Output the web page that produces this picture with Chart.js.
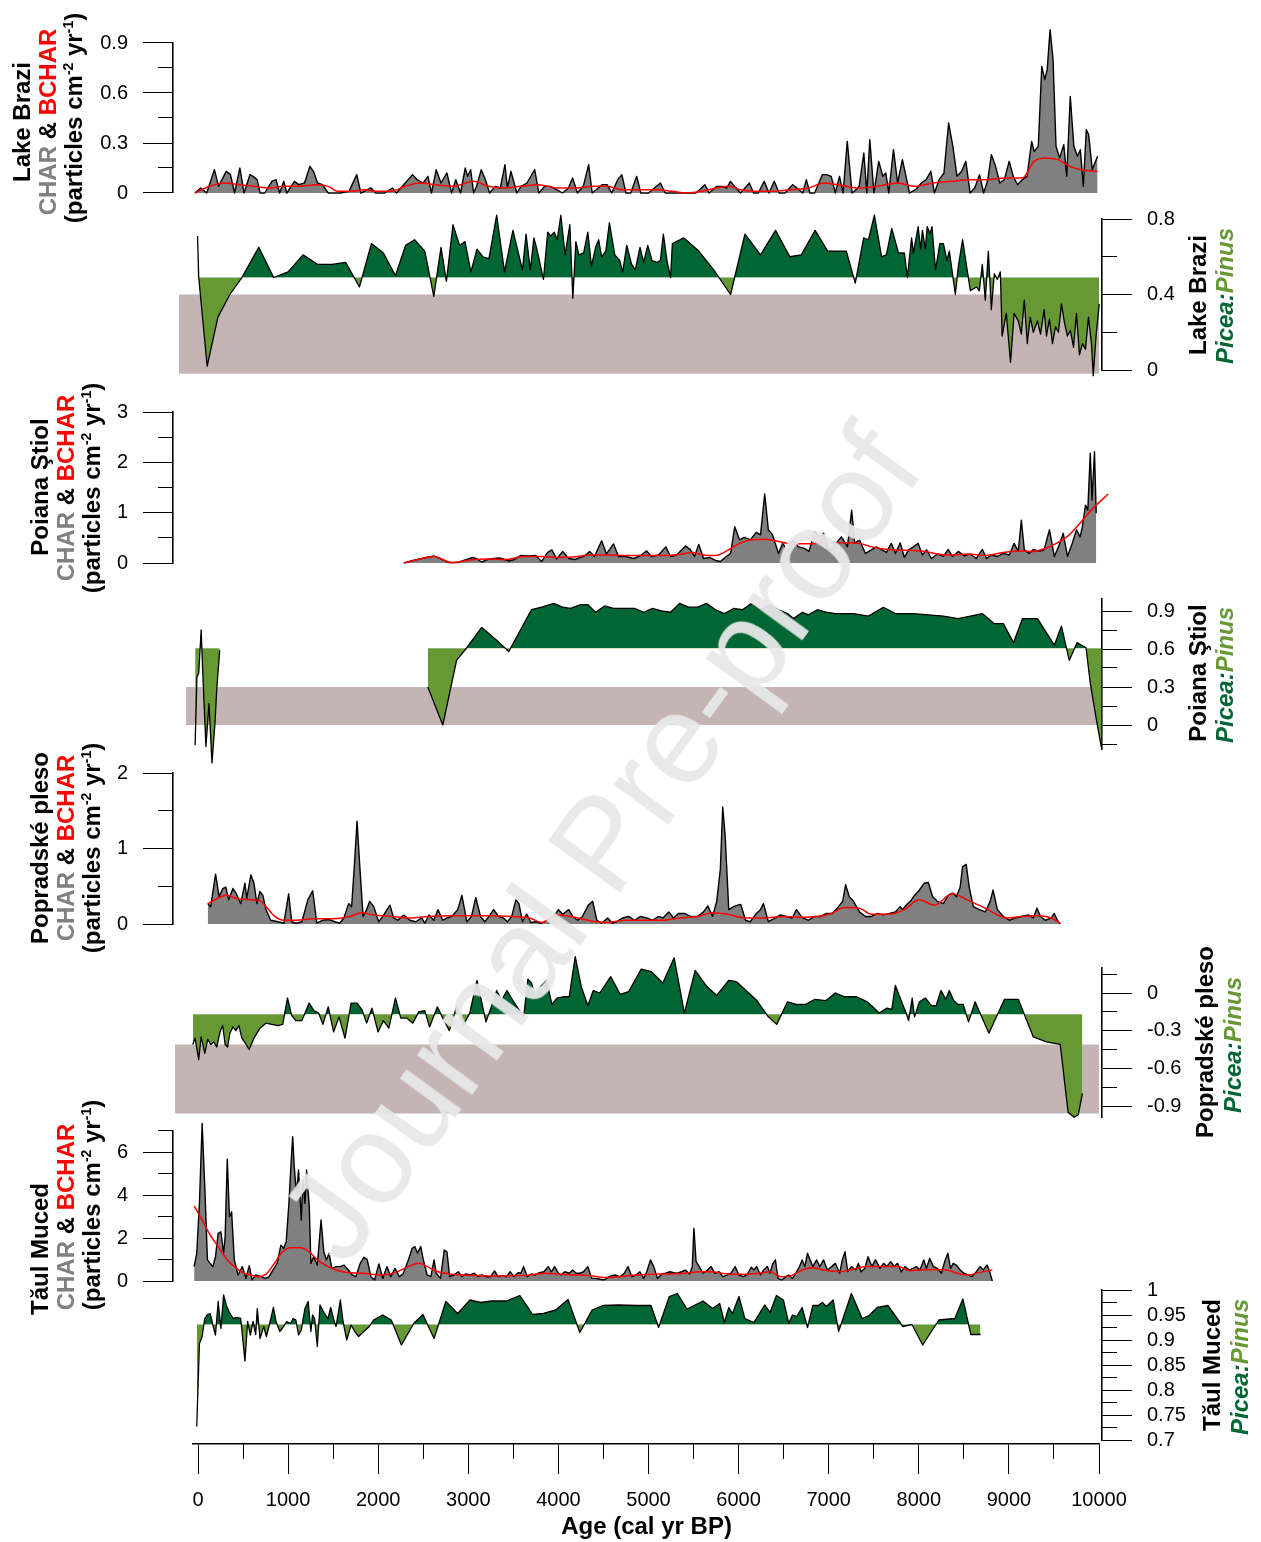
<!DOCTYPE html>
<html><head><meta charset="utf-8">
<script src="https://cdn.jsdelivr.net/npm/chart.js@4.4.1/dist/chart.umd.min.js"></script>
<style>
html,body{margin:0;padding:0;background:#fff;}
#wrap{position:relative;width:1261px;height:1542px;overflow:hidden;font-family:"Liberation Sans",Arial,sans-serif;}
canvas{position:absolute;left:0;top:0;}
.lbl{position:absolute;white-space:nowrap;font-weight:bold;font-size:24px;line-height:26px;color:#000;transform:translate(-50%,-50%) rotate(-90deg);}
.g{color:#808080}.r{color:#ff0000}
.pc{color:#006633;font-style:italic}.pn{color:#669933;font-style:italic}
sup{font-size:14px;vertical-align:9px;line-height:0}
#wm{position:absolute;left:600px;top:843px;white-space:nowrap;font-size:128px;color:rgb(232,232,232);opacity:0.94;transform:translate(-50%,-50%) rotate(-54deg);pointer-events:none;z-index:5;}
</style></head>
<body><div id="wrap"><canvas id="c" width="1261" height="1542"></canvas>
<div class="lbl" style="left:22px;top:122px">Lake Brazi</div>
<div class="lbl" style="left:48px;top:122px"><span class="g">CHAR</span> &amp; <span class="r">BCHAR</span></div>
<div class="lbl" style="left:74px;top:118px">(particles cm<sup>-2</sup> yr<sup>-1</sup>)</div>
<div class="lbl" style="left:40px;top:487px">Poiana Ştiol</div>
<div class="lbl" style="left:66px;top:488px"><span class="g">CHAR</span> &amp; <span class="r">BCHAR</span></div>
<div class="lbl" style="left:92px;top:488px">(particles cm<sup>-2</sup> yr<sup>-1</sup>)</div>
<div class="lbl" style="left:40px;top:848px">Popradské pleso</div>
<div class="lbl" style="left:66px;top:848px"><span class="g">CHAR</span> &amp; <span class="r">BCHAR</span></div>
<div class="lbl" style="left:92px;top:848px">(particles cm<sup>-2</sup> yr<sup>-1</sup>)</div>
<div class="lbl" style="left:40px;top:1249px">Tăul Muced</div>
<div class="lbl" style="left:66px;top:1217px"><span class="g">CHAR</span> &amp; <span class="r">BCHAR</span></div>
<div class="lbl" style="left:92px;top:1205px">(particles cm<sup>-2</sup> yr<sup>-1</sup>)</div>
<div class="lbl" style="left:1198px;top:295px">Lake Brazi</div>
<div class="lbl" style="left:1225px;top:296px"><span class="pc">Picea:</span><span class="pn">Pinus</span></div>
<div class="lbl" style="left:1198px;top:673px">Poiana Ştiol</div>
<div class="lbl" style="left:1225px;top:675px"><span class="pc">Picea:</span><span class="pn">Pinus</span></div>
<div class="lbl" style="left:1205px;top:1042px">Popradské pleso</div>
<div class="lbl" style="left:1233px;top:1045px"><span class="pc">Picea:</span><span class="pn">Pinus</span></div>
<div class="lbl" style="left:1212px;top:1365px">Tăul Muced</div>
<div class="lbl" style="left:1240px;top:1367px"><span class="pc">Picea:</span><span class="pn">Pinus</span></div>
<div id="wm">Journal Pre-proof</div>
</div>
<script>
// ---------------- DATA (age cal yr BP, value) ----------------
const braziChar = [[-35,0],[30,0.03],[96,0],[182,0.14],[228,0.04],[313,0.13],[360,0.11],[406,0],[465,0.15],[511,0],[577,0.11],[610,0.10],[656,0.08],[689,0],[741,0],[820,0.07],[866,0.08],[906,0],[952,0.07],[985,0],[1071,0.07],[1117,0.05],[1182,0.06],[1242,0.16],[1281,0.13],[1327,0.06],[1380,0.05],[1446,0],[1525,0],[1577,0],[1676,0.01],[1762,0.11],[1808,0],[1920,0.03],[1972,0],[2071,0],[2157,0.03],[2203,0],[2269,0.04],[2381,0.11],[2433,0.08],[2499,0.06],[2552,0.10],[2591,0],[2644,0.14],[2697,0.06],[2762,0.12],[2815,0],[2861,0.08],[2914,0],[2966,0.15],[2993,0.10],[3026,0.14],[3059,0],[3092,0.04],[3144,0.14],[3190,0.08],[3236,0],[3302,0.04],[3355,0.03],[3407,0.17],[3434,0.03],[3473,0.13],[3539,0],[3585,0.04],[3651,0.06],[3737,0.14],[3783,0],[3849,0.04],[3914,0.04],[3980,0.02],[4046,0],[4112,0.03],[4158,0.09],[4211,0],[4276,0.04],[4336,0.17],[4375,0],[4441,0.03],[4487,0.05],[4540,0.05],[4592,0],[4658,0.08],[4704,0.11],[4750,0],[4803,0],[4869,0.10],[4915,0],[5001,0],[5066,0.03],[5132,0.06],[5185,0],[5297,0],[5396,0],[5527,0],[5626,0.05],[5672,0],[5758,0.04],[5823,0.04],[5869,0.03],[5909,0.07],[5955,0.04],[6021,0],[6120,0.06],[6166,0],[6218,0],[6284,0.07],[6337,0],[6396,0.07],[6449,0],[6515,0],[6600,0.05],[6646,0.03],[6712,0],[6752,0.08],[6791,0],[6844,0],[6929,0.11],[6975,0.11],[7028,0.10],[7074,0],[7120,0.10],[7160,0],[7206,0.31],[7259,0],[7305,0.02],[7338,0.04],[7390,0.24],[7423,0],[7456,0.32],[7502,0],[7555,0.19],[7601,0.10],[7634,0.12],[7667,0],[7719,0.26],[7765,0.06],[7818,0.20],[7858,0.10],[7897,0],[7963,0.02],[8029,0.06],[8081,0.08],[8134,0.13],[8173,0],[8226,0.08],[8279,0.12],[8331,0.42],[8378,0.28],[8424,0.10],[8476,0.13],[8522,0.19],[8569,0],[8621,0.03],[8674,0.11],[8720,0],[8766,0.08],[8806,0.23],[8852,0.16],[8898,0.06],[8950,0.08],[9003,0.19],[9049,0.10],[9095,0.05],[9148,0.08],[9201,0.10],[9253,0.31],[9280,0.25],[9326,0.28],[9365,0.76],[9398,0.68],[9425,0.74],[9457,0.98],[9490,0.80],[9523,0.28],[9563,0.21],[9609,0.29],[9642,0.10],[9681,0.58],[9721,0.28],[9760,0.22],[9793,0.26],[9826,0.04],[9859,0.38],[9885,0.35],[9925,0.14],[9984,0.22]];
const braziBchar = [[-35,0],[129,0.04],[294,0.06],[458,0.05],[623,0.04],[787,0.03],[952,0.04],[1117,0.04],[1314,0.05],[1446,0.04],[1544,0.01],[1709,0.01],[1841,0.02],[1972,0.01],[2137,0.01],[2302,0.04],[2466,0.06],[2631,0.05],[2828,0.04],[3059,0.07],[3223,0.04],[3388,0.03],[3585,0.04],[3783,0.05],[3980,0.03],[4178,0.03],[4408,0.04],[4540,0.04],[4704,0.02],[4935,0.02],[5099,0.02],[5264,0.01],[5428,0],[5593,0.01],[5758,0.03],[5889,0.04],[6021,0.02],[6186,0.01],[6383,0.01],[6581,0.02],[6778,0.03],[6943,0.06],[7107,0.05],[7338,0.03],[7535,0.04],[7765,0.06],[7963,0.04],[8160,0.06],[8358,0.07],[8555,0.08],[8753,0.08],[8950,0.09],[9148,0.09],[9280,0.19],[9411,0.21],[9543,0.20],[9675,0.16],[9806,0.14],[9984,0.13]];
const braziPicea = [[-5,0.71],[8,0.49],[102,0.02],[221,0.28],[354,0.40],[487,0.49],[674,0.65],[840,0.49],[1000,0.52],[1166,0.61],[1326,0.56],[1486,0.56],[1639,0.57],[1792,0.44],[1925,0.67],[2058,0.62],[2191,0.50],[2304,0.66],[2404,0.69],[2517,0.63],[2617,0.39],[2697,0.65],[2757,0.47],[2830,0.77],[2903,0.66],[2963,0.68],[3029,0.52],[3096,0.64],[3162,0.60],[3229,0.59],[3315,0.82],[3402,0.52],[3495,0.74],[3601,0.53],[3641,0.72],[3688,0.53],[3728,0.70],[3761,0.64],[3834,0.48],[3881,0.73],[3914,0.71],[3954,0.73],[3987,0.69],[4027,0.82],[4074,0.61],[4127,0.77],[4160,0.38],[4194,0.68],[4227,0.61],[4280,0.62],[4327,0.73],[4367,0.55],[4413,0.65],[4447,0.69],[4480,0.60],[4526,0.63],[4566,0.78],[4626,0.61],[4680,0.58],[4713,0.52],[4759,0.66],[4813,0.56],[4853,0.53],[4906,0.65],[4946,0.57],[4992,0.66],[5039,0.58],[5092,0.57],[5132,0.58],[5165,0.72],[5205,0.58],[5245,0.49],[5265,0.67],[5392,0.70],[5558,0.63],[5724,0.53],[5911,0.40],[6070,0.72],[6243,0.61],[6410,0.74],[6569,0.60],[6696,0.61],[6849,0.74],[6989,0.63],[7088,0.63],[7195,0.63],[7295,0.46],[7388,0.70],[7441,0.69],[7507,0.82],[7587,0.60],[7640,0.61],[7700,0.75],[7774,0.62],[7840,0.62],[7873,0.49],[7920,0.70],[7940,0.62],[7993,0.76],[8020,0.64],[8040,0.74],[8073,0.64],[8093,0.76],[8126,0.72],[8146,0.76],[8186,0.53],[8233,0.67],[8273,0.67],[8313,0.58],[8339,0.63],[8406,0.40],[8439,0.55],[8486,0.69],[8572,0.42],[8639,0.44],[8672,0.42],[8705,0.56],[8738,0.37],[8772,0.63],[8805,0.32],[8838,0.51],[8872,0.48],[8905,0.52],[8925,0.18],[8971,0.30],[9018,0.04],[9058,0.30],[9104,0.26],[9138,0.19],[9171,0.37],[9204,0.14],[9237,0.28],[9271,0.20],[9317,0.26],[9351,0.19],[9391,0.32],[9417,0.18],[9450,0.27],[9484,0.14],[9517,0.23],[9550,0.20],[9583,0.35],[9617,0.25],[9650,0.18],[9683,0.21],[9717,0.12],[9750,0.30],[9783,0.08],[9816,0.14],[9850,0.11],[9883,0.28],[9916,0.14],[9936,-0.03],[9969,0.19],[10003,0.35]];
const braziBand = [[-211, 10000], [-0.02, 0.4]];   // [age range], [value range]
const braziBase = 0.49;

const stiolChar = [[2284,0],[2384,0.05],[2484,0.09],[2617,0.14],[2683,0.09],[2783,0.01],[2883,0.01],[2983,0.07],[3049,0.11],[3096,0.08],[3149,0.02],[3216,0.07],[3282,0.09],[3349,0.10],[3449,0.04],[3515,0.07],[3582,0.15],[3668,0.14],[3748,0.15],[3814,0.03],[3881,0.21],[3928,0.26],[3981,0.08],[4047,0.23],[4114,0.09],[4181,0.07],[4280,0.13],[4347,0.23],[4400,0.13],[4480,0.44],[4533,0.18],[4613,0.38],[4666,0.13],[4746,0.13],[4833,0.09],[4899,0.13],[4979,0.24],[5032,0.13],[5112,0.16],[5192,0.32],[5245,0.13],[5312,0.16],[5411,0.34],[5465,0.26],[5511,0.13],[5558,0.37],[5611,0.09],[5678,0.11],[5744,0.05],[5797,0.03],[5864,0.13],[5911,0.19],[5957,0.72],[6010,0.46],[6063,0.51],[6130,0.46],[6197,0.61],[6243,0.56],[6290,1.37],[6330,0.66],[6376,0.56],[6443,0.19],[6489,0.39],[6543,0.23],[6609,0.46],[6662,0.32],[6729,0.29],[6782,0.23],[6842,0.62],[6895,0.52],[6942,0.59],[6995,0.26],[7042,0.29],[7095,0.42],[7141,0.52],[7208,0.32],[7255,1.05],[7288,0.39],[7341,0.46],[7408,0.19],[7474,0.26],[7527,0.32],[7581,0.27],[7641,0.21],[7694,0.39],[7740,0.19],[7794,0.40],[7840,0.11],[7887,0.26],[7940,0.32],[7993,0.39],[8040,0.16],[8087,0.26],[8140,0.09],[8206,0.18],[8273,0.13],[8326,0.27],[8373,0.13],[8439,0.23],[8506,0.14],[8572,0.18],[8639,0.09],[8705,0.27],[8752,0.09],[8805,0.16],[8872,0.13],[8938,0.19],[9005,0.16],[9058,0.39],[9104,0.23],[9138,0.85],[9171,0.26],[9224,0.19],[9271,0.27],[9337,0.23],[9391,0.26],[9450,0.66],[9504,0.13],[9550,0.32],[9603,0.59],[9650,0.13],[9703,0.39],[9750,0.66],[9790,0.52],[9816,0.72],[9850,1.15],[9876,1.05],[9903,2.18],[9923,1.25],[9950,2.21],[9969,0.99]];
const stiolBchar = [[2284,0],[2417,0.06],[2617,0.13],[2816,0.01],[3016,0.06],[3216,0.08],[3415,0.07],[3615,0.13],[3814,0.13],[4014,0.11],[4214,0.13],[4347,0.16],[4546,0.16],[4746,0.15],[4946,0.15],[5145,0.15],[5345,0.17],[5478,0.21],[5611,0.16],[5744,0.15],[5877,0.25],[6010,0.39],[6143,0.46],[6276,0.47],[6410,0.44],[6543,0.39],[6676,0.38],[6809,0.38],[6942,0.40],[7075,0.40],[7208,0.40],[7341,0.39],[7474,0.32],[7607,0.28],[7740,0.26],[7940,0.25],[8073,0.23],[8206,0.18],[8339,0.16],[8539,0.18],[8738,0.15],[8938,0.21],[9138,0.24],[9271,0.23],[9404,0.29],[9537,0.40],[9670,0.56],[9803,0.82],[9936,1.09],[10102,1.37]];
const stiolPicea = [[-32,-0.16],[-12,0.38],[8,0.41],[35,0.75],[55,0.38],[88,-0.17],[122,0.17],[155,-0.30],[188,0.01],[208,0.28],[241,0.59],[1400,null],[2550,0.30],[2717,0],[2870,0.51],[2983,0.61],[3149,0.77],[3315,0.67],[3449,0.58],[3548,0.71],[3701,0.91],[3814,0.93],[3948,0.96],[4047,0.93],[4134,0.92],[4247,0.95],[4327,0.95],[4413,0.89],[4513,0.94],[4613,0.92],[4726,0.92],[4846,0.92],[4946,0.89],[5045,0.92],[5145,0.90],[5245,0.89],[5345,0.96],[5445,0.93],[5544,0.93],[5644,0.96],[5744,0.91],[5844,0.88],[5944,0.92],[6043,0.91],[6143,0.96],[6243,0.91],[6343,0.95],[6443,0.91],[6543,0.88],[6609,0.84],[6709,0.89],[6776,0.87],[6876,0.91],[6975,0.89],[7075,0.88],[7175,0.88],[7275,0.88],[7441,0.86],[7607,0.93],[7740,0.88],[7940,0.88],[8106,0.87],[8273,0.86],[8439,0.84],[8572,0.86],[8705,0.88],[8838,0.80],[8938,0.80],[9051,0.65],[9151,0.84],[9317,0.84],[9504,0.63],[9583,0.78],[9670,0.51],[9756,0.65],[9856,0.61],[9903,0.33],[9969,0.05],[10030,-0.19]];
const stiolBand = [[-133, 10000], [0, 0.3]];
const stiolBase = 0.605;

const popradChar = [[108,0.27],[141,0.23],[195,0.66],[235,0.36],[275,0.47],[308,0.49],[341,0.32],[388,0.47],[421,0.41],[474,0.27],[521,0.54],[541,0.34],[587,0.65],[621,0.54],[654,0.27],[687,0.43],[720,0.38],[754,0.19],[807,0.05],[887,0.03],[953,0.01],[1006,0.40],[1040,0.03],[1086,0.01],[1153,0.03],[1219,0.32],[1273,0.44],[1319,0.01],[1386,0.05],[1452,0.06],[1519,0.03],[1572,0.01],[1619,0.08],[1672,0.27],[1705,0.23],[1738,0.82],[1765,1.36],[1798,0.72],[1832,0.10],[1872,0.19],[1905,0.30],[1951,0.23],[2005,0.03],[2051,0.10],[2098,0.19],[2131,0.25],[2171,0.08],[2218,0.05],[2284,0.12],[2351,0.05],[2417,0.03],[2484,0.08],[2517,0.01],[2563,0.12],[2617,0.05],[2663,0.19],[2717,0.05],[2763,0.08],[2816,0.10],[2883,0.19],[2929,0.38],[2983,0.03],[3036,0.10],[3083,0.35],[3136,0.10],[3183,0.03],[3229,0.10],[3282,0.19],[3335,0.10],[3389,0.08],[3435,0.03],[3482,0.10],[3528,0.32],[3562,0.27],[3601,0.03],[3648,0.13],[3695,0.02],[3748,0.03],[3814,0.01],[3948,0.10],[4001,0.19],[4047,0.13],[4114,0.19],[4160,0.10],[4214,0.05],[4267,0.10],[4333,0.25],[4380,0.30],[4427,0.05],[4480,0.01],[4546,0.08],[4600,0.01],[4646,0.03],[4713,0.08],[4779,0.10],[4846,0.05],[4912,0.10],[4979,0.08],[5045,0.05],[5112,0.10],[5159,0.08],[5225,0.16],[5278,0.08],[5332,0.14],[5398,0.14],[5465,0.10],[5544,0.10],[5611,0.16],[5658,0.24],[5711,0.10],[5757,0.30],[5797,0.72],[5824,1.55],[5851,1.16],[5891,0.19],[5944,0.23],[5990,0.25],[6024,0.26],[6077,0.05],[6130,0.03],[6197,0.14],[6243,0.19],[6276,0.27],[6330,0.03],[6410,0.08],[6463,0.12],[6529,0.10],[6596,0.08],[6642,0.19],[6709,0.08],[6776,0.05],[6842,0.10],[6909,0.10],[6975,0.14],[7042,0.14],[7108,0.23],[7155,0.30],[7188,0.52],[7228,0.36],[7275,0.30],[7341,0.16],[7408,0.10],[7474,0.10],[7541,0.14],[7607,0.12],[7674,0.14],[7740,0.16],[7794,0.23],[7820,0.19],[7860,0.25],[7907,0.30],[7940,0.36],[8007,0.45],[8060,0.54],[8106,0.55],[8153,0.36],[8206,0.30],[8273,0.27],[8326,0.38],[8373,0.41],[8419,0.36],[8459,0.49],[8486,0.76],[8526,0.79],[8559,0.49],[8605,0.23],[8672,0.19],[8738,0.16],[8792,0.30],[8825,0.45],[8872,0.19],[8938,0.10],[9005,0.05],[9071,0.08],[9138,0.10],[9218,0.12],[9271,0.08],[9311,0.21],[9351,0.10],[9404,0.05],[9470,0.08],[9504,0.14],[9537,0.05],[9570,0]];
const popradBchar = [[108,0.27],[321,0.38],[454,0.33],[687,0.31],[754,0.23],[853,0.10],[953,0.05],[1086,0.05],[1286,0.07],[1486,0.07],[1685,0.10],[1818,0.15],[1951,0.12],[2151,0.10],[2351,0.08],[2550,0.10],[2816,0.11],[3016,0.11],[3282,0.11],[3482,0.10],[3681,0.08],[3814,0.02],[3981,0.12],[4081,0.11],[4214,0.08],[4413,0.03],[4546,0.02],[4746,0.05],[4946,0.05],[5145,0.05],[5345,0.08],[5544,0.10],[5711,0.15],[5877,0.13],[6077,0.08],[6276,0.08],[6476,0.10],[6676,0.09],[6876,0.10],[7008,0.13],[7175,0.22],[7341,0.21],[7474,0.13],[7674,0.13],[7840,0.19],[8007,0.32],[8173,0.25],[8373,0.40],[8539,0.32],[8738,0.21],[8971,0.08],[9138,0.10],[9304,0.11],[9470,0.08],[9570,0.01]];
const popradPicea = [[-58,-0.41],[-32,-0.36],[8,-0.53],[35,-0.35],[75,-0.48],[108,-0.37],[141,-0.41],[175,-0.39],[208,-0.43],[248,-0.30],[275,-0.26],[301,-0.41],[328,-0.43],[354,-0.32],[388,-0.27],[421,-0.30],[454,-0.26],[487,-0.36],[534,-0.41],[567,-0.45],[621,-0.36],[687,-0.28],[754,-0.24],[820,-0.25],[887,-0.26],[940,-0.25],[993,-0.04],[1040,-0.18],[1086,-0.22],[1153,-0.22],[1233,-0.08],[1286,-0.14],[1339,-0.16],[1386,-0.25],[1446,-0.11],[1505,-0.31],[1565,-0.19],[1632,-0.36],[1699,-0.08],[1765,-0.08],[1818,-0.13],[1872,-0.24],[1931,-0.12],[1998,-0.31],[2058,-0.22],[2118,-0.28],[2191,-0.04],[2251,-0.20],[2317,-0.20],[2384,-0.24],[2450,-0.15],[2517,-0.14],[2570,-0.27],[2657,-0.11],[2717,-0.20],[2790,-0.30],[2870,-0.11],[2949,-0.25],[3016,-0.16],[3096,0.10],[3136,-0.03],[3196,-0.23],[3256,-0.11],[3315,0.02],[3369,-0.06],[3429,0.02],[3495,-0.06],[3568,-0.14],[3615,-0.19],[3661,0.11],[3701,0.08],[3748,-0.04],[3801,0.05],[3868,0.10],[3928,-0.09],[3987,-0.04],[4054,-0.03],[4120,-0.03],[4187,0.29],[4254,0.05],[4327,-0.10],[4387,0.02],[4460,0.00],[4580,0.13],[4686,-0.01],[4779,0.01],[4919,0.19],[5032,0.17],[5159,0.08],[5285,0.28],[5398,-0.16],[5518,0.18],[5638,0.06],[5757,-0.02],[5890,0.10],[5977,0.09],[6097,0.01],[6203,-0.06],[6330,-0.19],[6423,-0.25],[6543,-0.07],[6642,-0.09],[6742,-0.09],[6849,-0.05],[6969,-0.06],[7075,0.00],[7175,-0.03],[7308,-0.03],[7428,-0.07],[7561,-0.16],[7647,-0.12],[7700,-0.13],[7740,0.06],[7820,-0.09],[7860,-0.16],[7887,-0.22],[7927,-0.04],[7953,-0.19],[8007,-0.07],[8073,-0.04],[8140,-0.10],[8193,-0.10],[8246,0.02],[8299,-0.05],[8339,0.02],[8386,-0.06],[8432,-0.09],[8492,-0.09],[8552,-0.23],[8625,-0.07],[8778,-0.32],[8951,-0.05],[9104,-0.05],[9271,-0.35],[9417,-0.39],[9570,-0.41],[9657,-0.95],[9723,-0.99],[9770,-0.97],[9816,-0.80]];
const popradBand = [[-255, 10000], [-0.96, -0.41]];
const popradBase = -0.17;

const mucedChar = [[-43,0.67],[-14,1.29],[16,3.61],[46,7.33],[75,4.39],[105,0.98],[135,0.82],[165,0.67],[194,1.13],[224,2.22],[254,2.29],[284,1.29],[301,2.06],[325,5.66],[349,2.99],[373,3.22],[403,0.98],[444,0.28],[492,0.67],[533,0.12],[569,0.71],[599,0.05],[640,0.28],[700,0.20],[747,0.12],[789,0.20],[831,0.51],[878,0.82],[920,1.67],[950,1.52],[979,1.83],[1009,3.61],[1033,5.47],[1051,6.71],[1068,5.32],[1092,4.08],[1116,5.16],[1146,2.84],[1164,4.70],[1187,3.61],[1205,5.16],[1235,3.46],[1253,0.82],[1283,1.13],[1324,0.74],[1366,2.84],[1396,1.36],[1425,0.98],[1455,1.29],[1485,0.59],[1532,0.67],[1580,0.67],[1621,0.74],[1669,0.51],[1711,0.28],[1752,0.20],[1800,0.82],[1841,1.10],[1877,1.01],[1919,0.20],[1960,0.05],[2008,0.79],[2050,0.12],[2097,0.67],[2139,0.20],[2186,0.59],[2234,0.20],[2276,0.33],[2335,0.98],[2377,1.52],[2406,1.60],[2436,1.29],[2472,1.60],[2501,0.98],[2543,0.28],[2585,0.20],[2620,0.98],[2644,0.36],[2692,0.12],[2733,1.44],[2763,1.36],[2793,0.20],[2840,0.28],[2888,0.43],[2930,0.20],[2971,0.33],[3019,0.28],[3066,0.36],[3108,0.20],[3150,0.28],[3197,0.20],[3245,0.20],[3292,0.47],[3328,0.20],[3376,0.26],[3423,0.20],[3465,0.43],[3506,0.20],[3554,0.39],[3584,0.36],[3613,0.67],[3655,0.20],[3703,0.33],[3744,0.28],[3792,0.39],[3839,0.43],[3887,0.67],[3923,0.43],[3958,0.67],[4000,0.36],[4030,0.28],[4071,0.43],[4119,0.36],[4160,0.51],[4196,0.36],[4238,0.36],[4279,0.43],[4327,0.67],[4369,0.12],[4416,0.12],[4464,0.08],[4505,0.05],[4565,0.20],[4624,0.28],[4684,0.20],[4731,0.36],[4773,0.67],[4815,0.20],[4862,0.28],[4904,0.43],[4945,0.12],[4981,0.43],[5022,0.98],[5058,0.67],[5100,0.12],[5147,0.33],[5189,0.36],[5237,0.43],[5278,0.39],[5320,0.36],[5367,0.43],[5409,0.51],[5457,0.33],[5486,0.67],[5504,2.45],[5528,0.90],[5563,0.67],[5605,0.36],[5647,0.48],[5694,0.67],[5736,0.36],[5784,0.43],[5825,0.20],[5873,0.28],[5914,0.36],[5962,0.67],[6004,0.28],[6051,0.20],[6093,0.28],[6141,0.64],[6170,0.51],[6200,0.67],[6242,0.28],[6277,0.51],[6319,0.67],[6349,0.36],[6378,0.79],[6408,0.98],[6438,0.12],[6479,0.05],[6527,0.20],[6557,0.28],[6598,0.12],[6634,0.36],[6676,0.67],[6705,0.98],[6735,0.67],[6765,1.29],[6794,0.98],[6824,0.67],[6866,0.98],[6901,0.67],[6943,0.98],[6985,0.51],[7032,0.67],[7074,0.82],[7122,0.36],[7151,0.98],[7181,1.36],[7211,0.43],[7252,0.67],[7300,0.51],[7330,0.82],[7359,0.43],[7401,0.59],[7437,1.13],[7478,0.67],[7520,0.98],[7568,0.59],[7609,0.82],[7645,0.67],[7687,0.90],[7728,0.67],[7764,0.82],[7806,0.43],[7847,0.67],[7895,0.51],[7936,0.59],[7972,0.67],[8013,0.51],[8055,0.98],[8085,0.59],[8121,1.05],[8162,0.67],[8204,0.59],[8251,0.36],[8293,0.98],[8323,1.29],[8352,0.59],[8382,0.82],[8418,0.74],[8459,0.51],[8501,0.36],[8549,0.28],[8590,0.20],[8638,0.43],[8680,0.67],[8715,0.51],[8757,0.74],[8787,0.43],[8816,0]];
const mucedBchar = [[-43,3.49],[46,2.84],[135,2.14],[224,1.60],[313,1.05],[403,0.67],[492,0.40],[581,0.28],[670,0.20],[759,0.33],[848,0.82],[938,1.36],[1027,1.55],[1146,1.55],[1235,1.36],[1324,0.98],[1413,0.74],[1532,0.51],[1651,0.40],[1830,0.36],[2008,0.28],[2186,0.39],[2335,0.67],[2454,0.82],[2543,0.67],[2662,0.43],[2781,0.33],[2959,0.28],[3138,0.25],[3316,0.23],[3494,0.25],[3673,0.28],[3851,0.36],[4030,0.31],[4208,0.28],[4386,0.23],[4505,0.16],[4684,0.20],[4862,0.28],[5040,0.31],[5219,0.33],[5397,0.36],[5576,0.43],[5694,0.43],[5873,0.33],[6051,0.31],[6230,0.36],[6349,0.43],[6468,0.20],[6587,0.25],[6705,0.51],[6824,0.62],[6943,0.51],[7122,0.43],[7241,0.51],[7419,0.67],[7597,0.67],[7776,0.67],[7895,0.48],[8013,0.51],[8192,0.54],[8311,0.51],[8430,0.36],[8549,0.28],[8668,0.39],[8816,0.51]];
const mucedPicea = [[-14,0.727],[16,0.893],[46,0.907],[75,0.943],[105,0.951],[135,0.953],[165,0.930],[194,0.910],[224,0.977],[254,0.923],[284,0.990],[313,0.970],[343,0.957],[391,0.943],[432,0.945],[474,0.943],[521,0.858],[551,0.937],[581,0.910],[611,0.937],[640,0.911],[658,0.963],[688,0.903],[730,0.927],[759,0.907],[801,0.937],[837,0.965],[866,0.937],[908,0.917],[950,0.927],[985,0.937],[1027,0.933],[1057,0.943],[1086,0.940],[1116,0.910],[1146,0.920],[1187,0.963],[1223,0.977],[1253,0.917],[1271,0.950],[1294,0.943],[1324,0.887],[1354,0.970],[1413,0.950],[1443,0.943],[1473,0.965],[1503,0.943],[1532,0.927],[1580,0.980],[1610,0.937],[1651,0.900],[1699,0.930],[1740,0.917],[1782,0.907],[1841,0.917],[1901,0.927],[1949,0.940],[2050,0.950],[2145,0.940],[2258,0.890],[2394,0.933],[2496,0.951],[2620,0.903],[2751,0.977],[2882,0.953],[3019,0.980],[3138,0.975],[3257,0.978],[3423,0.978],[3572,0.989],[3714,0.951],[3833,0.953],[3970,0.960],[4107,0.981],[4238,0.915],[4374,0.960],[4493,0.969],[4672,0.970],[4862,0.969],[5028,0.969],[5112,0.925],[5231,0.987],[5320,0.993],[5427,0.962],[5605,0.978],[5712,0.963],[5790,0.973],[5843,0.935],[5891,0.965],[5932,0.953],[6004,0.987],[6069,0.943],[6170,0.935],[6289,0.970],[6349,0.955],[6420,0.989],[6497,0.980],[6557,0.933],[6598,0.950],[6646,0.947],[6705,0.965],[6765,0.925],[6824,0.969],[6884,0.969],[6931,0.975],[6973,0.967],[7050,0.980],[7110,0.917],[7252,0.993],[7371,0.943],[7449,0.949],[7538,0.965],[7657,0.969],[7823,0.927],[7924,0.931],[8043,0.890],[8222,0.940],[8400,0.943],[8489,0.982],[8578,0.911],[8685,0.911]];
const mucedBase = 0.931;

// tick values
const xMajor = [0,1000,2000,3000,4000,5000,6000,7000,8000,9000,10000];
const xMinor = [500,1500,2500,3500,4500,5500,6500,7500,8500,9500];

// ---------------- LAYOUT / STYLE ----------------
const FONT = '"Liberation Sans", Arial, sans-serif';
const AREA = {left: 173, right: 1102, top: 24, bottom: 1444};
const C_GREY = '#808080', C_RED = '#ff0000', C_DK = '#006633', C_LT = '#669933', C_BAND = '#c5b4b4';

// axis placement: value a at pixel pa, value b at pixel pb
const axes = [
  {id:'yB',  pos:'left',  a:0,    pa:193,  b:0.9, pb:43,   major:[0,0.3,0.6,0.9], minor:[0.15,0.45,0.75], ext:[0,0.9]},
  {id:'yBp', pos:'right', a:0,    pa:370,  b:0.8, pb:219,  major:[0,0.4,0.8], minor:[0.2,0.6], ext:[0,0.8]},
  {id:'yS',  pos:'left',  a:0,    pa:563,  b:3,   pb:412,  major:[0,1,2,3], minor:[0.5,1.5,2.5], ext:[0,3]},
  {id:'ySp', pos:'right', a:0,    pa:725,  b:0.9, pb:611,  major:[0,0.3,0.6,0.9], minor:[-0.15,0.15,0.45,0.75], ext:[-0.19,1.0]},
  {id:'yP',  pos:'left',  a:0,    pa:924,  b:2,   pb:773,  major:[0,1,2], minor:[0.5,1.5], ext:[0,2]},
  {id:'yPp', pos:'right', a:-0.9, pa:1106, b:0,   pb:993,  major:[-0.9,-0.6,-0.3,0], minor:[-0.75,-0.45,-0.15,0.15], ext:[-0.99,0.2]},
  {id:'yM',  pos:'left',  a:0,    pa:1281, b:6,   pb:1152, major:[0,2,4,6], minor:[1,3,5,7], ext:[0,7]},
  {id:'yMp', pos:'right', a:0.7,  pa:1440, b:1,   pb:1290, major:[0.7,0.75,0.8,0.85,0.9,0.95,1], minor:[0.725,0.775,0.825,0.875,0.925,0.975], ext:[0.7,1.0]}
];
const xAx = {a:0, pa:198, b:10000, pb:1099, ext:[-55, 10011]};

function yRange(p) {
  const k = (p.pa - p.pb) / (p.b - p.a);
  return {min: p.a - (AREA.bottom - p.pa) / k, max: p.b + (p.pb - AREA.top) / k};
}
function xRange(p) {
  const k = (p.pb - p.pa) / (p.b - p.a);
  return {min: p.a - (p.pa - AREA.left) / k, max: p.b + (AREA.right - p.pb) / k};
}
const fmt = v => String(Math.round(v * 1000) / 1000);
function zeroPad(s) { s.paddingTop = 0; s.paddingBottom = 0; s.paddingLeft = 0; s.paddingRight = 0; }

const scales = {};
const xr = xRange(xAx);
scales.xm = {
  type:'linear', position:'bottom', min:xr.min, max:xr.max, bounds:'data', weight:0,
  afterBuildTicks: s => { s.ticks = xMinor.map(v => ({value:v})); },
  afterFit: s => { s.height = 0; zeroPad(s); },
  grid:{drawOnChartArea:false, drawTicks:true, tickLength:15, tickColor:'#000', tickWidth:1, color:'#000'},
  border:{display:false},
  ticks:{display:false, autoSkip:false}
};
scales.x = {
  type:'linear', position:'bottom', min:xr.min, max:xr.max, bounds:'data', weight:1,
  afterBuildTicks: s => { s.ticks = xMajor.map(v => ({value:v})); },
  afterFit: s => { s.height = 1542 - AREA.bottom; zeroPad(s); },
  grid:{drawOnChartArea:false, drawTicks:true, tickLength:30, tickColor:'#000', tickWidth:1, color:'#000'},
  border:{display:true, color:'#000', width:1.6},
  ticks:{display:true, autoSkip:false, maxRotation:0, padding:14, color:'#000', font:{family:FONT, size:20}, callback: v => fmt(v)},
  title:{display:true, text:'Age (cal yr BP)', color:'#000', font:{family:FONT, size:24, weight:'bold'}, padding:{top:0, bottom:0}}
};
for (const p of axes) {
  const r = yRange(p);
  for (const minor of [true, false]) {
    scales[minor ? p.id + 'm' : p.id] = {
      type:'linear', position:p.pos, min:r.min, max:r.max, bounds:'data', weight: minor ? 0 : 1,
      afterBuildTicks: s => { s.ticks = (minor ? p.minor : p.major).map(v => ({value:v})); },
      afterFit: s => { s.width = 0; zeroPad(s); },
      grid:{drawOnChartArea:false, drawTicks:true, tickLength: minor ? 15 : 30, tickColor:'#000', tickWidth:1, color:'#000'},
      border:{display: !minor, color:'#000', width:1.6},
      ticks:{display: !minor, autoSkip:false, padding:15, color:'#000', font:{family:FONT, size:20}, callback: v => fmt(v)}
    };
  }
}

const xy = a => a.map(p => ({x:p[0], y:p[1]}));
const base = {pointRadius:0, pointHoverRadius:0, borderJoinStyle:'round', spanGaps:false, clip:false, xAxisID:'x'};
function charSet(d, axis) {
  return Object.assign({}, base, {data:xy(d), yAxisID:axis, borderColor:'#000', borderWidth:1.4,
    backgroundColor:C_GREY, fill:{target:{value:0}}, order:2, tension:0});
}
function bcharSet(d, axis) {
  return Object.assign({}, base, {data:xy(d), yAxisID:axis, borderColor:C_RED, borderWidth:1.5,
    fill:false, order:1, cubicInterpolationMode:'monotone'});
}
function piceaSet(d, axis, b) {
  return Object.assign({}, base, {data:xy(d), yAxisID:axis, borderColor:'#000', borderWidth:1.3,
    fill:{target:{value:b}, above:C_DK, below:C_LT}, backgroundColor:C_DK, order:3, tension:0});
}
function bandSet(b, axis) {
  return Object.assign({}, base, {data:[{x:b[0][0], y:b[1][1]}, {x:b[0][1], y:b[1][1]}], yAxisID:axis,
    borderWidth:0, borderColor:'rgba(0,0,0,0)', backgroundColor:C_BAND, fill:{target:{value:b[1][0]}}, order:5});
}

const datasets = [
  bandSet(braziBand, 'yBp'), piceaSet(braziPicea, 'yBp', braziBase), charSet(braziChar, 'yB'), bcharSet(braziBchar, 'yB'),
  bandSet(stiolBand, 'ySp'), piceaSet(stiolPicea, 'ySp', stiolBase), charSet(stiolChar, 'yS'), bcharSet(stiolBchar, 'yS'),
  bandSet(popradBand, 'yPp'), piceaSet(popradPicea, 'yPp', popradBase), charSet(popradChar, 'yP'), bcharSet(popradBchar, 'yP'),
  piceaSet(mucedPicea, 'yMp', mucedBase), charSet(mucedChar, 'yM'), bcharSet(mucedBchar, 'yM')
];

// shorten axis lines to their own value range; give label boxes room outside the plot
const axisExtents = {
  id:'axisExtents',
  afterLayout(chart) {
    const ca = chart.chartArea;
    for (const p of axes) {
      for (const id of [p.id, p.id + 'm']) {
        const s = chart.scales[id];
        s.top = s.getPixelForValue(p.ext[1]);
        s.bottom = s.getPixelForValue(p.ext[0]);
        if (p.pos === 'left') { s.left = 0; s.right = ca.left; }
        else { s.left = ca.right; s.right = chart.width; }
      }
    }
    const sx = chart.scales.x;
    sx.left = sx.getPixelForValue(xAx.ext[0]);
    sx.right = sx.getPixelForValue(xAx.ext[1]);
  }
};

new Chart(document.getElementById('c'), {
  type:'line',
  data:{datasets},
  options:{
    responsive:false, animation:false, devicePixelRatio:1, events:[],
    layout:{autoPadding:false, padding:{left:AREA.left, right:1261 - AREA.right, top:AREA.top, bottom:0}},
    plugins:{legend:{display:false}, tooltip:{enabled:false}},
    scales
  },
  plugins:[axisExtents]
});
</script>
</body></html>
